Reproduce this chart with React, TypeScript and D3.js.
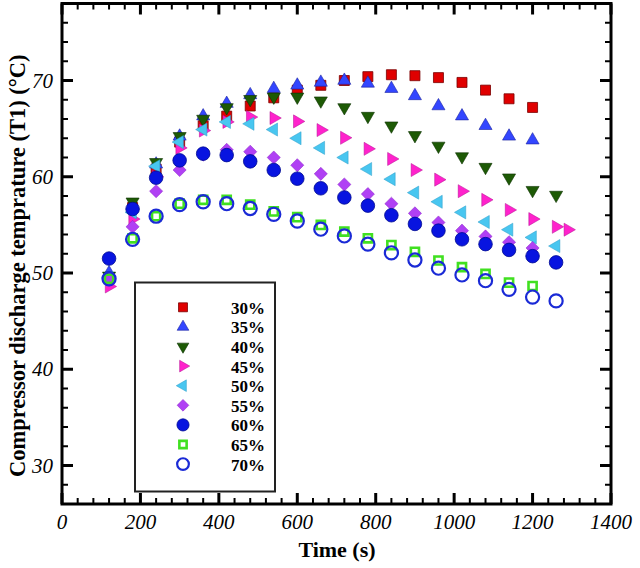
import * as d3 from 'd3';

// sampling times (s) shared by every run
const times = [
  120, 180, 240, 300, 360, 420, 480, 540, 600, 660, 720, 780, 840, 900, 960,
  1020, 1080, 1140, 1200, 1260,
];
const extraTime45 = 1290;

// compressor discharge temperature (°C)
const t30 = [49.5, 56.8, 60.8, 63.6, 65.3, 66.3, 67.35, 68.2, 69.0, 69.5, 70.0, 70.4, 70.6, 70.5, 70.3, 69.8, 69.0, 68.1, 67.2];
const t35 = [50.0, 57.0, 61.3, 64.2, 66.3, 67.6, 68.5, 69.15, 69.5, 69.8, 70.0, 69.7, 69.15, 68.4, 67.35, 66.3, 65.3, 64.2, 63.8];
const t40 = [49.7, 57.4, 61.5, 64.2, 66.0, 67.2, 68.05, 68.3, 68.3, 67.9, 67.2, 66.3, 65.3, 64.3, 63.2, 62.1, 61.0, 59.9, 58.6, 58.1];
const t45 = [48.6, 55.6, 60.0, 63.0, 64.8, 65.7, 66.2, 66.1, 65.75, 64.85, 64.05, 62.9, 61.85, 60.7, 59.7, 58.5, 57.6, 56.55, 55.6, 54.8, 54.5];
const t50 = [49.5, 56.3, 61.1, 63.6, 64.9, 65.7, 65.5, 64.9, 64.0, 63.0, 62.0, 60.8, 59.75, 58.35, 57.4, 56.3, 55.3, 54.5, 53.7, 52.8];
const t55 = [49.3, 54.8, 58.5, 60.7, 62.3, 62.8, 62.6, 62.0, 61.2, 60.3, 59.2, 58.2, 57.2, 56.2, 55.25, 54.4, 53.8, 53.2, 52.6];
const t60 = [51.5, 56.65, 59.9, 61.7, 62.4, 62.25, 61.6, 60.7, 59.8, 58.8, 57.85, 57.0, 56.0, 55.1, 54.4, 53.5, 53.0, 52.4, 51.75, 51.1];
const t65 = [49.4, 53.6, 55.9, 57.2, 57.6, 57.6, 57.1, 56.4, 55.8, 55.0, 54.3, 53.6, 52.9, 52.2, 51.3, 50.6, 49.9, 49.0, 48.65];
const t70 = [49.4, 53.5, 55.9, 57.1, 57.4, 57.2, 56.7, 56.1, 55.4, 54.55, 53.85, 53.0, 52.1, 51.35, 50.5, 49.8, 49.2, 48.3, 47.5, 47.1];

const labels = ['30%', '35%', '40%', '45%', '50%', '55%', '60%', '65%', '70%'];
const seriesValues = [t30, t35, t40, t45, t50, t55, t60, t65, t70];

const xTicks = [0, 200, 400, 600, 800, 1000, 1200, 1400];
const yTicks = [30, 40, 50, 60, 70];

type MarkerStyle = {
  shape: d3.SymbolType;
  size: number;
  rotate: number;
  fill: string;
  stroke: string;
  strokeWidth: number;
};

const markers: MarkerStyle[] = [
  { shape: d3.symbolSquare, size: 100, rotate: 0, fill: '#e00000', stroke: '#7a0000', strokeWidth: 0.8 },
  { shape: d3.symbolTriangle, size: 74, rotate: 0, fill: '#3346ff', stroke: '#1a22a0', strokeWidth: 0.6 },
  { shape: d3.symbolTriangle, size: 74, rotate: 180, fill: '#1d5a05', stroke: '#0c3000', strokeWidth: 0.6 },
  { shape: d3.symbolTriangle, size: 74, rotate: 90, fill: '#ff22cc', stroke: '#b01090', strokeWidth: 0.5 },
  { shape: d3.symbolTriangle, size: 74, rotate: -90, fill: '#48c6f0', stroke: '#2a9cc8', strokeWidth: 0.5 },
  { shape: d3.symbolSquare, size: 86, rotate: 45, fill: '#b040f4', stroke: '#8a20c8', strokeWidth: 0.5 },
  { shape: d3.symbolCircle, size: 145, rotate: 0, fill: '#0814e0', stroke: '#000a90', strokeWidth: 0.8 },
  { shape: d3.symbolSquare, size: 66, rotate: 0, fill: 'none', stroke: '#40e020', strokeWidth: 2.6 },
  { shape: d3.symbolCircle, size: 135, rotate: 0, fill: 'none', stroke: '#1a2ad6', strokeWidth: 2.2 },
];

const width = 640,
  height = 568;
const plot = { left: 62, right: 611, top: 3.5, bottom: 504 };

export default function App() {
  const xScale = d3.scaleLinear().domain([0, 1400]).range([plot.left, plot.right]);
  const yScale = d3.scaleLinear().domain([26, 78]).range([plot.bottom, plot.top]);

  const xMinor = d3.range(0, 1401, 40).filter((d) => d % 200 !== 0);
  const yMinor = d3.range(26, 79, 2).filter((d) => d % 10 !== 0);

  const symbolPath = (m: MarkerStyle, scale = 1) =>
    d3.symbol().type(m.shape).size(m.size * scale)()!;

  const font = '"Liberation Serif", "Times New Roman", serif';

  return (
    <svg
      width={width}
      height={height}
      viewBox={`0 0 ${width} ${height}`}
      style={{ position: 'absolute', left: 0, top: 0, background: 'white' }}
      fontFamily={font}
    >
      {/* data */}
      {seriesValues.map((vals, si) => {
        const m = markers[si];
        const ts = si === 3 ? [...times, extraTime45] : times;
        return (
          <g key={labels[si]}>
            {vals.map((v, i) => (
              <path
                key={i}
                d={symbolPath(m)}
                transform={`translate(${xScale(ts[i])}, ${yScale(v)}) rotate(${m.rotate})`}
                fill={m.fill}
                stroke={m.stroke}
                strokeWidth={m.strokeWidth}
              />
            ))}
          </g>
        );
      })}

      {/* frame */}
      <rect
        x={plot.left}
        y={plot.top}
        width={plot.right - plot.left}
        height={plot.bottom - plot.top}
        fill="none"
        stroke="black"
        strokeWidth={3}
      />

      {/* x ticks, bottom and top */}
      <g stroke="black">
        {xTicks.map((d) => (
          <g key={d}>
            <line x1={xScale(d)} x2={xScale(d)} y1={plot.bottom} y2={plot.bottom - 11} strokeWidth={3} />
            <line x1={xScale(d)} x2={xScale(d)} y1={plot.top} y2={plot.top + 11} strokeWidth={3} />
          </g>
        ))}
        {xMinor.map((d) => (
          <g key={d}>
            <line x1={xScale(d)} x2={xScale(d)} y1={plot.bottom} y2={plot.bottom - 6} strokeWidth={2} />
            <line x1={xScale(d)} x2={xScale(d)} y1={plot.top} y2={plot.top + 6} strokeWidth={2} />
          </g>
        ))}
        {yTicks.map((d) => (
          <g key={d}>
            <line x1={plot.left} x2={plot.left + 11} y1={yScale(d)} y2={yScale(d)} strokeWidth={3} />
            <line x1={plot.right} x2={plot.right - 11} y1={yScale(d)} y2={yScale(d)} strokeWidth={3} />
          </g>
        ))}
        {yMinor.map((d) => (
          <g key={d}>
            <line x1={plot.left} x2={plot.left + 6} y1={yScale(d)} y2={yScale(d)} strokeWidth={2} />
            <line x1={plot.right} x2={plot.right - 6} y1={yScale(d)} y2={yScale(d)} strokeWidth={2} />
          </g>
        ))}
      </g>

      {/* tick labels */}
      {xTicks.map((d) => (
        <text key={d} x={xScale(d)} y={529} textAnchor="middle" fontSize={21} fontStyle="italic">
          {d}
        </text>
      ))}
      {yTicks.map((d) => (
        <text
          key={d}
          x={plot.left - 9}
          y={yScale(d)}
          textAnchor="end"
          dominantBaseline="central"
          fontSize={21}
          fontStyle="italic"
        >
          {d}
        </text>
      ))}

      {/* axis titles */}
      <text x={337} y={557} textAnchor="middle" fontSize={22} fontWeight="bold">
        Time (s)
      </text>
      <text
        transform={`translate(25, ${(plot.top + plot.bottom) / 2 + 12}) rotate(-90)`}
        textAnchor="middle"
        fontSize={22.5}
        fontWeight="bold"
      >
        Compressor discharge temprature (T1) (°C)
      </text>

      {/* legend */}
      <g>
        <rect x={135} y={282.5} width={140} height={209} fill="white" stroke="#222" strokeWidth={2} />
        {labels.map((l, i) => {
          const m = markers[i];
          const y = 307.3 + i * 19.6;
          return (
            <g key={l}>
              <path
                d={symbolPath(m, 0.8)}
                transform={`translate(183, ${y}) rotate(${m.rotate})`}
                fill={m.fill}
                stroke={m.stroke}
                strokeWidth={m.strokeWidth}
              />
              <text x={231} y={y + 1} dominantBaseline="central" fontSize={17} fontWeight="bold">
                {l}
              </text>
            </g>
          );
        })}
      </g>
    </svg>
  );
}
